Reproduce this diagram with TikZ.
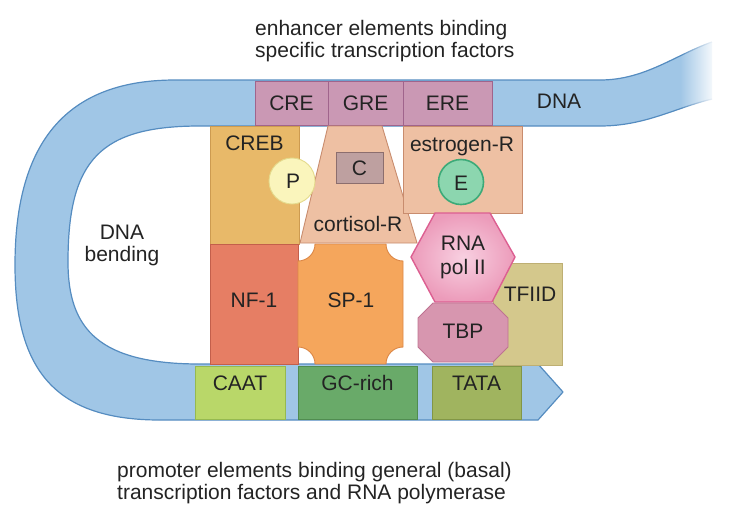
\documentclass[tikz,border=0pt]{standalone}
\usepackage{fontspec}
\setmainfont{Liberation Sans}
\usetikzlibrary{fadings}
\definecolor{bandfill}{RGB}{160,198,230}
\definecolor{bandline}{RGB}{85,140,192}
\definecolor{enh}{RGB}{202,152,180}
\definecolor{enhline}{RGB}{160,100,140}
\definecolor{creb}{RGB}{232,185,105}
\definecolor{crebline}{RGB}{205,155,80}
\definecolor{peach}{RGB}{238,192,163}
\definecolor{peachline}{RGB}{200,140,110}
\definecolor{cbox}{RGB}{190,160,160}
\definecolor{cboxline}{RGB}{140,110,110}
\definecolor{pyellow}{RGB}{250,245,188}
\definecolor{pyellowline}{RGB}{228,218,140}
\definecolor{egreen}{RGB}{140,214,175}
\definecolor{egreenline}{RGB}{60,170,120}
\definecolor{nfone}{RGB}{230,126,100}
\definecolor{nfoneline}{RGB}{195,95,75}
\definecolor{spone}{RGB}{245,166,92}
\definecolor{sponeline}{RGB}{220,135,70}
\definecolor{hexin}{RGB}{248,208,225}
\definecolor{hexout}{RGB}{236,155,186}
\definecolor{hexline}{RGB}{220,95,145}
\definecolor{tbp}{RGB}{215,150,175}
\definecolor{tbpline}{RGB}{190,115,145}
\definecolor{tfiid}{RGB}{212,200,140}
\definecolor{tfiidline}{RGB}{190,175,115}
\definecolor{caat}{RGB}{185,215,105}
\definecolor{caatline}{RGB}{150,185,80}
\definecolor{gcrich}{RGB}{105,170,105}
\definecolor{gcrichline}{RGB}{80,140,80}
\definecolor{tata}{RGB}{160,180,95}
\definecolor{tataline}{RGB}{130,150,70}
\definecolor{txt}{RGB}{35,35,35}
\begin{document}
\begin{tikzpicture}[x=1pt,y=-1pt,
  font=\fontsize{21}{22}\selectfont,
  every node/.style={text=txt, inner sep=0pt},
  lbl/.style={text height=15pt, text depth=0pt, anchor=center},
  shp/.style={line width=0.9pt},
  boxn/.style={shp, rectangle, text height=15pt, text depth=0pt}]
\useasboundingbox (0,0) rectangle (735,515);

% DNA band
\fill[bandfill] (712,42) .. controls (675,55) and (645,80) .. (600,80)
 -- (175,80) .. controls (60,80) and (15,150) .. (15,265)
 .. controls (15,370) and (55,420) .. (160,420)
 -- (538,420) -- (563,392) -- (538,364) -- (200,364)
 .. controls (100,364) and (68,330) .. (68,262)
 .. controls (68,160) and (100,126) .. (200,126)
 -- (600,126) .. controls (645,126) and (675,108) .. (712,99) -- cycle;
\draw[bandline, line width=1.2pt, line join=round]
 (712,42) .. controls (675,55) and (645,80) .. (600,80)
 -- (175,80) .. controls (60,80) and (15,150) .. (15,265)
 .. controls (15,370) and (55,420) .. (160,420)
 -- (538,420) -- (563,392) -- (538,364) -- (200,364)
 .. controls (100,364) and (68,330) .. (68,262)
 .. controls (68,160) and (100,126) .. (200,126)
 -- (600,126) .. controls (645,126) and (675,108) .. (712,99);
\fill[white, path fading=west] (680,30) rectangle (716,112);

% enhancer elements
\node[boxn, draw=enhline, fill=enh, minimum width=73pt, minimum height=44pt] (cre) at (291.5,103) {CRE};
\node[boxn, draw=enhline, fill=enh, minimum width=75pt, minimum height=44pt] (gre) at (365.5,103) {GRE};
\node[boxn, draw=enhline, fill=enh, minimum width=89pt, minimum height=44pt] (ere) at (447.5,103) {ERE};
\node[lbl] (dna) at (559,101) {DNA};

% promoter elements
\filldraw[shp, draw=caatline, fill=caat] (195,366) rectangle (285,419);
\filldraw[shp, draw=gcrichline, fill=gcrich] (298,366) rectangle (417,419);
\filldraw[shp, draw=tataline, fill=tata] (432,366) rectangle (521,419);
\node[lbl] (caatl) at (240,382.5) {CAAT};
\node[lbl] (gcl) at (357.5,382.5) {GC-rich};
\node[lbl] (tatal) at (476.5,382.5) {TATA};

% CREB and NF-1
\filldraw[shp, draw=crebline, fill=creb] (210,126) rectangle (299,244);
\node[lbl] (crebl) at (254.5,143) {CREB};
\node[boxn, draw=nfoneline, fill=nfone, minimum width=88pt, minimum height=120pt] (nf) at (254,304) {};
\node[lbl] (nfl) at (254,300) {NF-1};

% SP-1 with concave corners
\filldraw[shp, draw=sponeline, fill=spone]
 (315,244) -- (386,244)
 .. controls (386,253.4) and (393.6,261) .. (403,261)
 -- (403,347)
 .. controls (393.6,347) and (386,354.6) .. (386,364)
 -- (315,364)
 .. controls (315,354.6) and (307.4,347) .. (298,347)
 -- (298,261)
 .. controls (307.4,261) and (315,253.4) .. (315,244) -- cycle;
\node[lbl] (spl) at (351,300) {SP-1};

% cortisol receptor
\filldraw[shp, draw=peachline, fill=peach] (328,126) -- (382,126) -- (417,243) -- (300,243) -- cycle;
\filldraw[shp, draw=cboxline, fill=cbox] (336,152) rectangle (383,183);
\node[lbl] (cl) at (359.5,167.5) {C};
\node[lbl] (cortl) at (358,224) {cortisol-R};
\filldraw[shp, draw=pyellowline, fill=pyellow] (292,181) circle (23);
\node[lbl] (pl) at (293,181) {P};

% estrogen receptor
\filldraw[shp, draw=peachline, fill=peach] (403,126) rectangle (522,213);
\node[lbl] (estl) at (462,143.5) {estrogen-R};
\filldraw[line width=1.6pt, draw=egreenline, fill=egreen] (461,182) circle (22.5);
\node[lbl] (el) at (461,182.5) {E};

% TFIID, RNA pol II, TBP
\filldraw[shp, draw=tfiidline, fill=tfiid] (493,263) rectangle (562,365);
\node[lbl] (tfl) at (530,294) {TFIID};
\shade[inner color=hexin, outer color=hexout] (435,213) -- (490,213) -- (515,257) -- (492,302) -- (435,302) -- (411,257) -- cycle;
\draw[line width=1.4pt, hexline, line join=round] (435,213) -- (490,213) -- (515,257) -- (492,302) -- (435,302) -- (411,257) -- cycle;
\node[lbl] (rnal) at (463,243) {RNA};
\node[lbl] (poll) at (463,267) {pol II};
\filldraw[shp, draw=tbpline, fill=tbp] (433,303) -- (493,303) -- (508,318) -- (508,347) -- (493,362) -- (433,362) -- (418,347) -- (418,318) -- cycle;
\node[lbl] (tbpl) at (463,331) {TBP};

% captions
\node[align=center] (bend) at (122,245) {DNA\\bending};
\node[align=left, anchor=north west] (enhtext) at (255,20) {enhancer elements binding\\specific transcription factors};
\node[align=left, anchor=north west] (promtext) at (117,461.7) {promoter elements binding general (basal)\\transcription factors and RNA polymerase};
\end{tikzpicture}
\end{document}
